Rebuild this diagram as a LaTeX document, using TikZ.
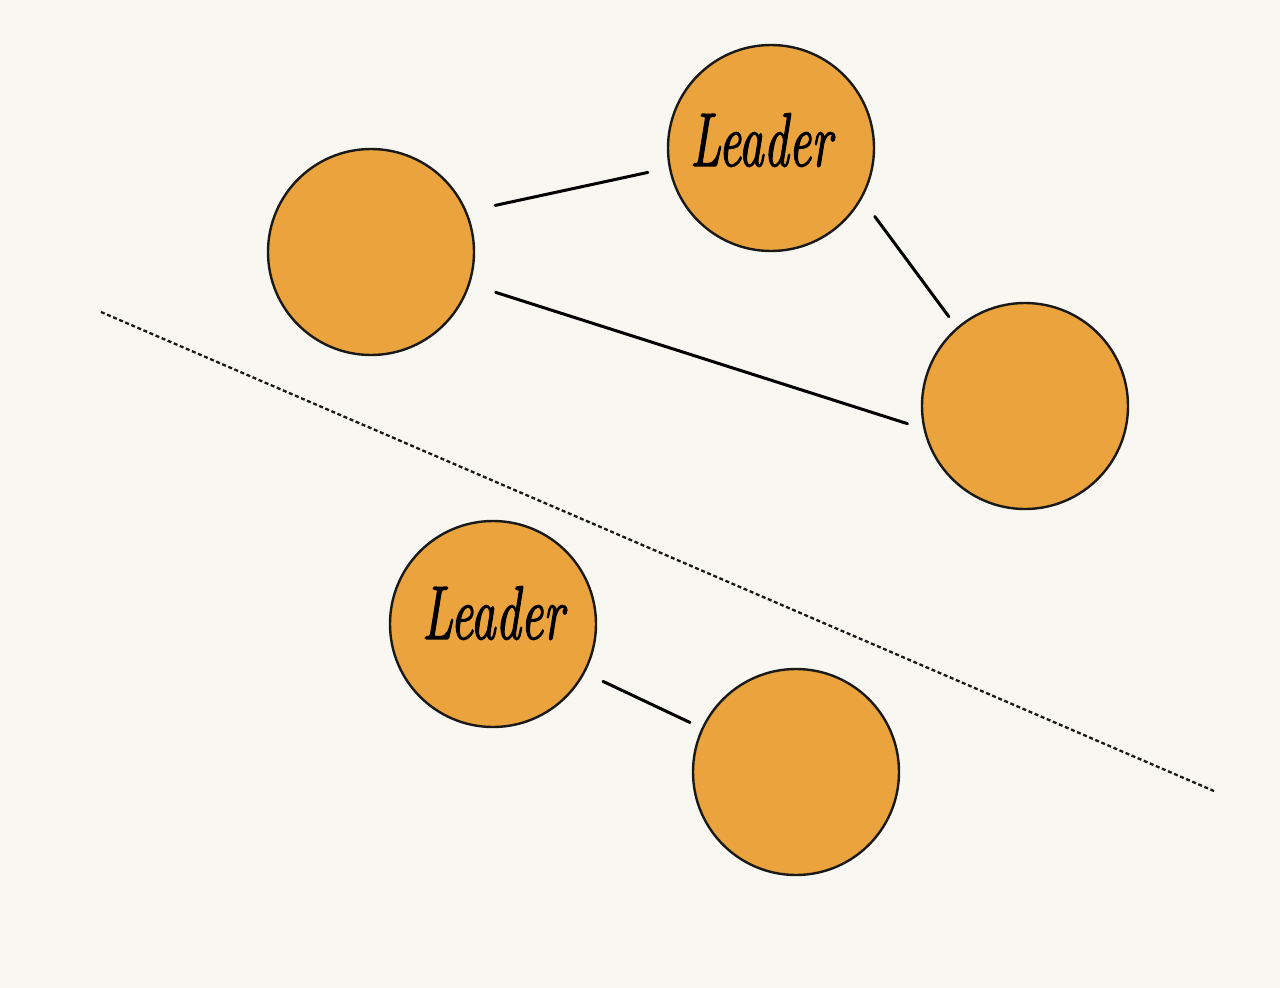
\documentclass[tikz,border=0pt]{standalone}
\usepackage{fontspec}
\newfontface\hand[FakeBold=1.8]{lmroman10-italic.otf}
\begin{document}
\begin{tikzpicture}[x=1pt,y=-1pt,
  ball/.style={circle,draw=black!90,line width=2.4pt,fill=ballfill,minimum size=206pt,inner sep=0pt,outer sep=0pt},
  link/.style={line width=3pt,draw=black,line cap=round},
  lead/.style={font=\fontsize{49}{49}\selectfont\hand,yscale=1.55},
]
\definecolor{ballfill}{HTML}{EBA33D}
\definecolor{paper}{HTML}{F9F7F2}
\fill[paper] (0,0) rectangle (1280,988);
\useasboundingbox (0,0) rectangle (1280,988);
\node[ball] (a) at (371,252) {};
\node[ball] (b) at (771,148) {};
\node[ball] (c) at (1025,406) {};
\node[ball] (d) at (493,624) {};
\node[ball] (e) at (796,772) {};
\node[lead] (lb) at (761,140) {Leader};
\node[lead] (ld) at (493,613) {Leader};
\draw[link,shorten <=30pt,shorten >=22.5pt] (a.23) -- (b.191);
\draw[link,shorten <=23pt,shorten >=14.5pt] (b.331.7) -- (c.131);
\draw[link,shorten <=28pt,shorten >=18pt] (a.342.5) -- (c.193.6);
\draw[link,shorten <=21pt,shorten >=14pt] (d.332.5) -- (e.155);
\coordinate (dl1) at (101,312);
\coordinate (dl2) at (1214,791);
\draw[line width=2.3pt,dash pattern=on 4pt off 2.6pt,black!90] (dl1) -- (dl2);
\end{tikzpicture}
\end{document}
